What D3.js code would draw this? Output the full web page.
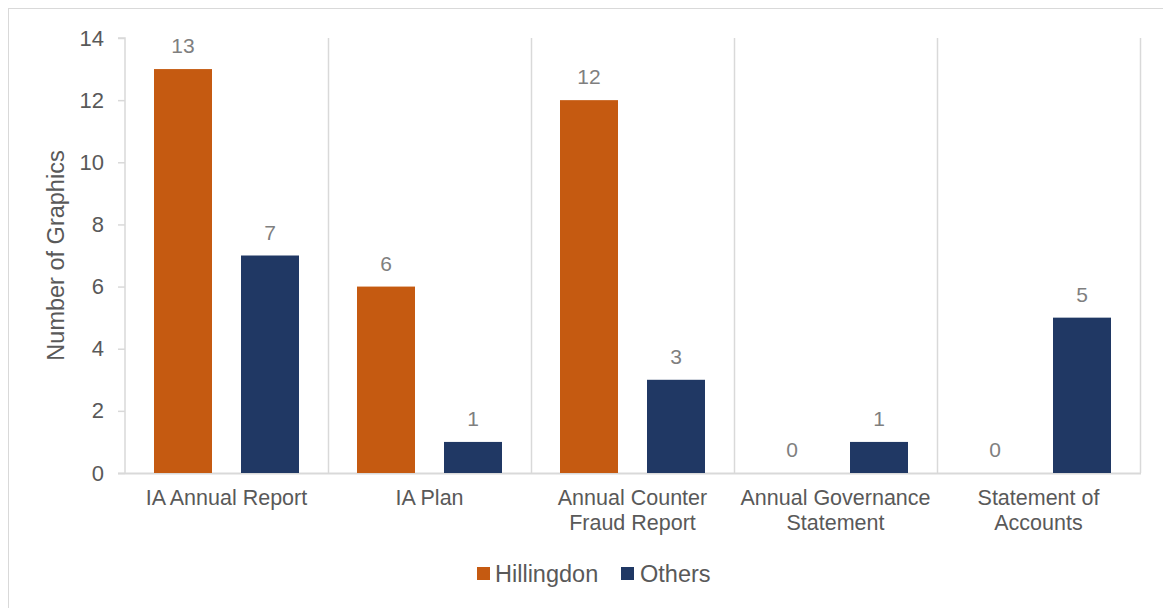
<!DOCTYPE html>
<html><head><meta charset="utf-8">
<script src="https://cdn.jsdelivr.net/npm/d3@7"></script>
<style>body{margin:0;background:#fff}svg{display:block}text{font-family:"Liberation Sans",Arial,sans-serif}</style>
</head><body><svg id="c" width="1163" height="608"></svg>
<script>
const categories = [["IA Annual Report"],["IA Plan"],["Annual Counter","Fraud Report"],["Annual Governance","Statement"],["Statement of","Accounts"]];
const seriesNames = ["Hillingdon","Others"];
const hillingdon = [13,6,12,0,0];
const others = [7,1,3,1,5];
const yTicks = [0,2,4,6,8,10,12,14];
const colors = ["#C55A11","#203864"];

const svg = d3.select("#c");
const m = {l:125, r:1140, t:38, b:473};
svg.append("rect").attr("x",8.5).attr("y",8.5).attr("width",1200).attr("height",700).attr("fill","none").attr("stroke","#d9d9d9");

const x0 = d3.scaleBand().domain(d3.range(categories.length)).range([m.l,m.r]).paddingInner(0).paddingOuter(0);
const x1 = d3.scaleBand().domain(seriesNames).range([0,x0.bandwidth()]).paddingInner(1/3).paddingOuter(1/3);
const y = d3.scaleLinear().domain([0,14]).range([m.b,m.t]);

const seps = d3.range(1,categories.length+1).map(i=>x0(i-1)+x0.bandwidth());
svg.selectAll(".sep").data(seps).enter().append("line")
  .attr("x1",d=>Math.round(d)+0.5).attr("x2",d=>Math.round(d)+0.5).attr("y1",m.t).attr("y2",m.b)
  .attr("stroke","#d9d9d9").attr("stroke-width",1.5);

const ya = svg.append("g").attr("transform",`translate(${m.l},0)`)
  .call(d3.axisLeft(y).tickValues(yTicks).tickSize(7).tickPadding(14).tickFormat(d3.format("d")));
ya.select(".domain").attr("stroke","#d9d9d9").attr("stroke-width",1.5).attr("d",`M-7,${m.t}H0V${m.b}`);
ya.selectAll(".tick line").attr("stroke","#d9d9d9").attr("stroke-width",1.5);
ya.selectAll(".tick text").attr("fill","#595959").style("font-size","22px").style("font-family","'Liberation Sans',Arial,sans-serif");

svg.append("line").attr("x1",m.l-7).attr("x2",m.r+1).attr("y1",m.b+0.5).attr("y2",m.b+0.5).attr("stroke","#d9d9d9").attr("stroke-width",2);

const data = categories.map((c,i)=>({i, vals:[hillingdon[i],others[i]]}));
const g = svg.selectAll(".cat").data(data).enter().append("g").attr("transform",d=>`translate(${x0(d.i)},0)`);
g.selectAll("rect").data(d=>d.vals.map((v,k)=>({v,k}))).enter().append("rect")
  .attr("x",d=>x1(seriesNames[d.k])).attr("width",x1.bandwidth())
  .attr("y",d=>y(d.v)).attr("height",d=>y(0)-y(d.v)).attr("fill",d=>colors[d.k]);
g.selectAll(".lbl").data(d=>d.vals.map((v,k)=>({v,k}))).enter().append("text")
  .attr("x",d=>x1(seriesNames[d.k])+x1.bandwidth()/2).attr("y",d=>y(d.v)-16)
  .attr("text-anchor","middle").attr("fill","#7f7f7f").style("font-size","21px").text(d=>d.v);

categories.forEach((lines,i)=>{
  const t = svg.append("text").attr("text-anchor","middle").attr("fill","#595959").style("font-size","21.5px")
    .attr("x",x0(i)+x0.bandwidth()/2).attr("y",505);
  lines.forEach((l,j)=>t.append("tspan").attr("x",x0(i)+x0.bandwidth()/2).attr("dy",j?25:0).text(l));
});

svg.append("text").attr("transform",`translate(64,${(m.t+m.b)/2}) rotate(-90)`).attr("text-anchor","middle")
  .attr("fill","#595959").style("font-size","23.5px").text("Number of Graphics");

const lg = [{x:477,tx:495},{x:621,tx:640}];
seriesNames.forEach((s,k)=>{
  svg.append("rect").attr("x",lg[k].x).attr("y",567).attr("width",13).attr("height",13).attr("fill",colors[k]);
  svg.append("text").attr("x",lg[k].tx).attr("y",582).attr("fill","#595959").style("font-size","23.5px").text(s);
});
</script></body></html>
